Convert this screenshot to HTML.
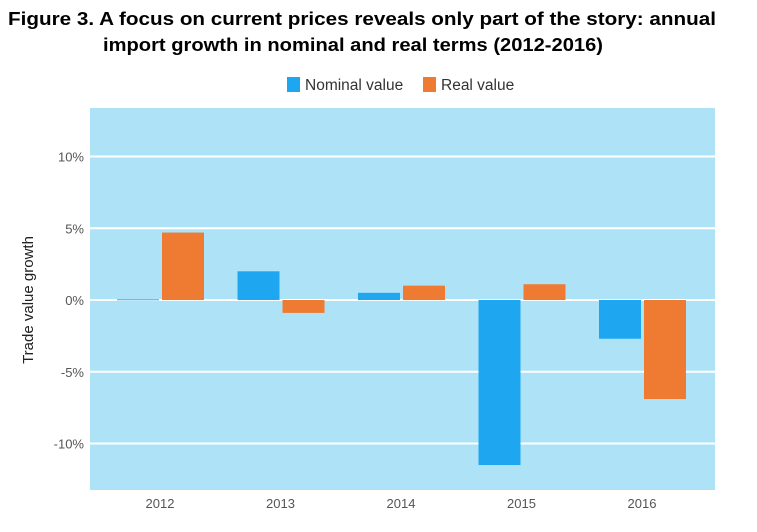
<!DOCTYPE html>
<html><head><meta charset="utf-8"><style>
body{margin:0;background:#fff;width:757px;height:527px;overflow:hidden;font-family:"Liberation Sans",sans-serif}
</style></head><body>
<svg width="757" height="527" xmlns="http://www.w3.org/2000/svg">
<text x="8" y="25" font-size="18.5" font-weight="bold" fill="#000" textLength="708" lengthAdjust="spacingAndGlyphs">Figure 3.  A focus on current prices reveals only part of the story: annual</text>
<text x="103" y="51" font-size="18.5" font-weight="bold" fill="#000" textLength="500" lengthAdjust="spacingAndGlyphs">import growth in nominal and real terms (2012-2016)</text>
<g>
<rect x="287" y="77" width="13" height="15" fill="#1ea7f0"/>
<text x="305" y="90" font-size="15.5" fill="#333">Nominal value</text>
<rect x="423" y="77" width="13" height="15" fill="#ef7b32"/>
<text x="441" y="90" font-size="15.5" fill="#333">Real value</text>
</g>
<rect x="90" y="108" width="625" height="382" fill="#aee3f7"/>
<g id="grid"></g><g id="bars"></g><g id="labels"></g>
<text transform="translate(33,300) rotate(-90)" text-anchor="middle" font-size="15" fill="#222">Trade value growth</text>
</svg>
<script>
const categories=["2012","2013","2014","2015","2016"];
const nominal=[0.05,2.0,0.5,-11.5,-2.7];
const real=[4.7,-0.9,1.0,1.1,-6.9];
const yTicks=[10,5,0,-5,-10];
const yTickLabels=["10%","5%","0%","-5%","-10%"];
const ns="http://www.w3.org/2000/svg";
const y=v=>300-v*14.35;
const x=i=>160+i*120.5;
function mk(t,a,p){const e=document.createElementNS(ns,t);for(const k in a)e.setAttribute(k,a[k]);document.getElementById(p).appendChild(e);return e;}
yTicks.forEach((v,i)=>{
 const l=mk("line",{x1:90,x2:715,y1:y(v),y2:y(v),stroke:"#fff","stroke-width":2},"grid");
 
 
 const t=mk("text",{x:84,y:y(v)+5,"text-anchor":"end","font-size":13,fill:"#555"},"labels");
 t.textContent=yTickLabels[i];
 
 
});
categories.forEach((c,i)=>{
 const n=nominal[i],r=real[i];
 const b1=mk("rect",{x:x(i)-43,width:42,y:Math.min(y(n),y(0)),height:Math.max(Math.abs(y(n)-y(0)),1),fill:"#1ea7f0"},"bars");
 
 
 const b2=mk("rect",{x:x(i)+2,width:42,y:Math.min(y(r),y(0)),height:Math.max(Math.abs(y(r)-y(0)),1),fill:"#ef7b32"},"bars");
 
 
 const t=mk("text",{x:x(i),y:508,"text-anchor":"middle","font-size":13,fill:"#555"},"labels");
 t.textContent=c;
 
 
});
</script>
</body></html>
